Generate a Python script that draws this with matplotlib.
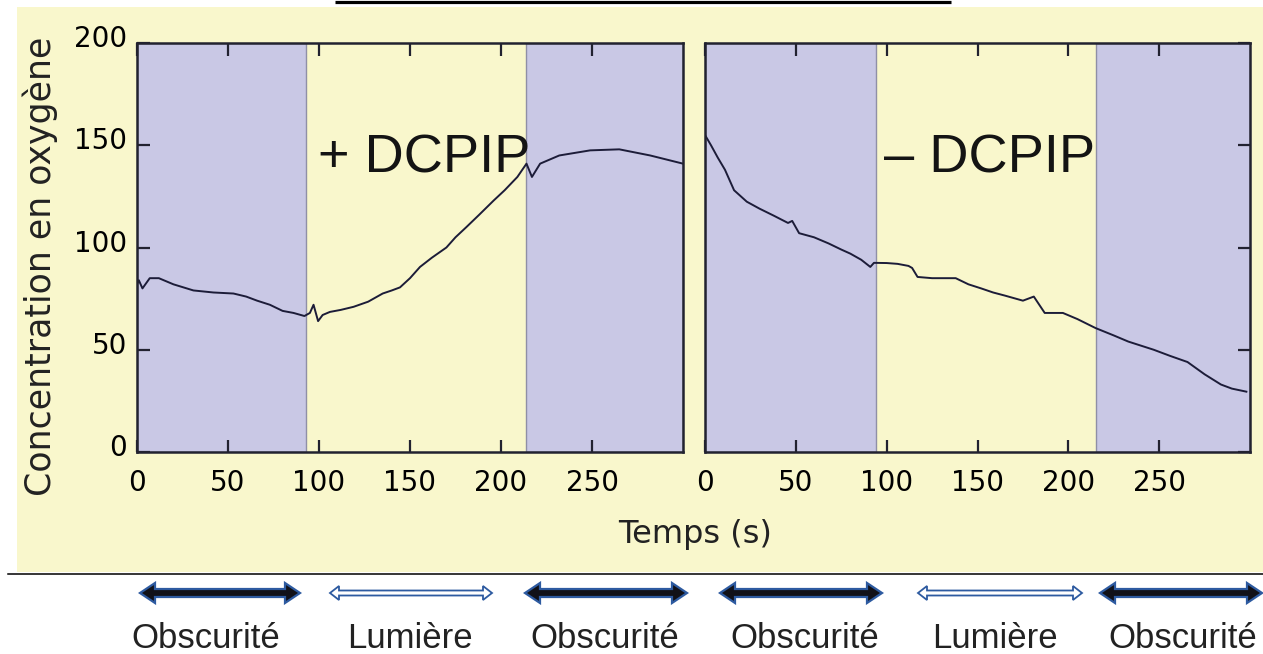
import numpy as np
import matplotlib
matplotlib.use('Agg')
import matplotlib.pyplot as plt
from matplotlib.patches import Polygon, Rectangle
import matplotlib.transforms as mtransforms

# ---------------- données ----------------
# avec DCPIP
t_plus = [0, 1, 3, 7, 12, 20, 31, 42, 53, 60, 66, 73, 80, 86, 92, 95, 97, 99.5,
          102, 106, 112, 119, 127, 135, 140, 144.5, 150, 155.5, 162, 170, 175,
          181, 188, 196, 202, 209, 214, 217, 221.5, 232, 249, 265, 282, 300]
c_plus = [82, 84, 80, 85, 85, 82, 79, 78, 77.5, 76, 74, 72, 69, 68, 66.5, 68, 72, 64,
          67, 68.5, 69.5, 71, 73.5, 77.5, 79, 80.5, 85, 90.5, 95, 100, 105,
          110, 116, 123, 128, 134.5, 141, 134.5, 141, 145, 147.5, 148, 145, 141]

# sans DCPIP
t_moins = [0, 3.3, 7, 11, 16, 23, 30, 38, 45.7, 48, 51.8, 60, 68, 75, 80, 86, 91, 93,
           100, 106, 112, 114, 117, 125, 138, 145, 152, 158.6, 165, 175, 181, 184,
           187, 197, 205, 215, 225, 233, 240, 247, 256, 265.6, 275, 284, 290, 298]
c_moins = [155, 150, 144, 138, 128, 122.4, 119, 115.5, 112, 113, 107, 105, 102, 99, 97,
           94, 90.5, 92.5, 92.4, 92, 91, 90, 85.6, 85, 85, 82, 80, 78, 76.5, 74, 76, 72,
           68, 68, 65, 60.6, 57, 54, 52, 50, 47, 44, 38, 33, 31, 29.5]

# périodes d'obscurité (s)
obscur_plus = [(0, 93), (214, 300)]
obscur_moins = [(0, 94), (215, 300)]

xticks = [0, 50, 100, 150, 200, 250]
yticks = [0, 50, 100, 150, 200]

# légende du bas
periodes = ['Obscurité', 'Lumière', 'Obscurité', 'Obscurité', 'Lumière', 'Obscurité']
fleches_x = [(140, 300), (330, 492), (525, 687), (720, 882), (918, 1082), (1100, 1262)]
labels_x = [206, 410, 605, 805, 995, 1183]

# ---------------- couleurs ----------------
jaune = '#f9f7cc'
violet = '#c9c8e5'
trait = '#1c1c38'
bleu = '#2d5aa0'

W, H = 1263, 654
fig = plt.figure(figsize=(W / 100, H / 100), dpi=100)
fig.patch.set_facecolor('white')

# axe de fond en pixels
bg = fig.add_axes([0, 0, 1, 1])
bg.set_zorder(-1)
bg.set_xlim(0, W)
bg.set_ylim(H, 0)
bg.axis('off')
bg.add_patch(Rectangle((17, 7), W - 17, 565, color=jaune, lw=0))
bg.plot([335, 951], [1.5, 1.5], color='black', lw=2.3, solid_capstyle='butt')
bg.plot([8, W], [574, 574], color='black', lw=1.1)


def double_fleche(x0, x1, y, shaft, head_w, head_l, fc, ec, lw):
    pts = [(x0, y), (x0 + head_l, y - head_w / 2), (x0 + head_l, y - shaft / 2),
           (x1 - head_l, y - shaft / 2), (x1 - head_l, y - head_w / 2), (x1, y),
           (x1 - head_l, y + head_w / 2), (x1 - head_l, y + shaft / 2),
           (x0 + head_l, y + shaft / 2), (x0 + head_l, y + head_w / 2)]
    bg.add_patch(Polygon(pts, closed=True, fc=fc, ec=ec, lw=lw, joinstyle='miter'))


for nom, (x0, x1), xl in zip(periodes, fleches_x, labels_x):
    if nom == 'Obscurité':
        double_fleche(x0, x1, 593, 8, 20, 15, '#111118', bleu, 1.6)
    else:
        double_fleche(x0, x1, 593, 5, 14, 9, 'white', bleu, 1.3)
    bg.text(xl, 638, nom, ha='center', va='center', fontsize=25,
            family='Liberation Sans', color='#222222')

# ---------------- les deux graphiques ----------------
ax1 = fig.add_axes([137 / W, 1 - 452 / H, 546 / W, 409 / H])
ax2 = fig.add_axes([705 / W, 1 - 452 / H, 545 / W, 409 / H])

for ax, t, c, obs in [(ax1, t_plus, c_plus, obscur_plus), (ax2, t_moins, c_moins, obscur_moins)]:
    ax.set_facecolor(jaune)
    for a, b in obs:
        ax.axvspan(a, b, facecolor=violet, edgecolor='#8f8fa6', lw=1.0, zorder=1)
    ax.plot(t, c, color=trait, lw=1.4, zorder=3)
    ax.set_xlim(0, 300)
    ax.set_ylim(0, 200)
    ax.set_xticks(xticks)
    ax.set_yticks(yticks)
    for s in ax.spines.values():
        s.set_linewidth(1.8)
        s.set_color('#222230')
        s.set_zorder(4)
    ax.tick_params(axis='both', direction='in', length=9, width=1.6,
                   color='#222230', labelsize=20, pad=12)
    ax.tick_params(axis='x', top=True)

ax1.tick_params(axis='y', left=True, right=False, pad=7)
ax2.tick_params(axis='y', left=False, right=True, labelleft=False, labelright=False)

# décalage léger des étiquettes de l'axe y vers le haut
offset = mtransforms.ScaledTranslation(0, 5 / 72, fig.dpi_scale_trans)
for lab in ax1.get_yticklabels():
    lab.set_transform(lab.get_transform() + offset)

fig.text(40 / W, 1 - 266 / H, 'Concentration en oxygène', rotation=90,
         ha='center', va='center', fontsize=25, color='#222222')
fig.text(695 / W, 1 - 543 / H, 'Temps (s)', ha='center', va='baseline',
         fontsize=23, color='#222222')

fig.text(318 / W, 1 - 172 / H, '+ DCPIP', ha='left', va='baseline', fontsize=39,
         family='Liberation Sans', color='#141414', zorder=5)
fig.text(884 / W, 1 - 172 / H, '– DCPIP', ha='left', va='baseline', fontsize=39,
         family='Liberation Sans', color='#141414', zorder=5)

fig.savefig('out.png', dpi=100)
